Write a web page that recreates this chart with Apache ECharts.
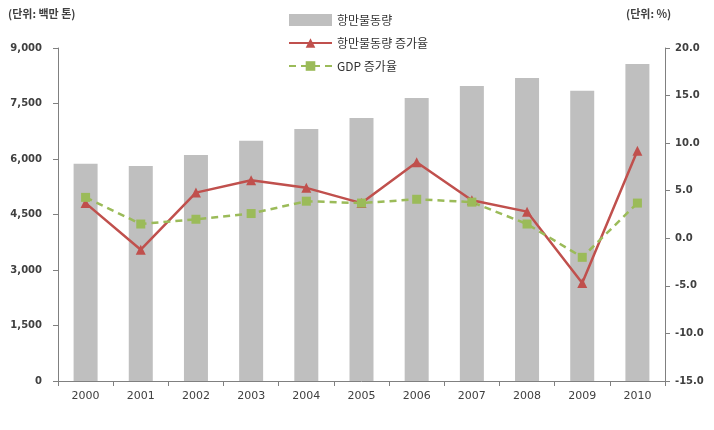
<!DOCTYPE html>
<html>
<head>
<meta charset="utf-8">
<script src="https://cdn.jsdelivr.net/npm/echarts@6/dist/echarts.min.js"></script>
<style>html,body{margin:0;padding:0;background:#fff;}#c{width:714px;height:430px;}</style>
</head>
<body>
<div id="c"></div>
<script>
var categories = ['2000','2001','2002','2003','2004','2005','2006','2007','2008','2009','2010'];
var volume = [5870, 5810, 6110, 6495, 6810, 7110, 7650, 7970, 8190, 7845, 8570];
var volumeGrowth = [3.7, -1.2, 4.8, 6.1, 5.3, 3.7, 8.0, 4.0, 2.8, -4.7, 9.2];
var gdpGrowth = [4.3, 1.5, 2.0, 2.6, 3.9, 3.7, 4.1, 3.8, 1.5, -2.0, 3.7];
var names = ['항만물동량', '항만물동량 증가율', 'GDP 증가율'];
var leftTitle = '(단위: 백만 톤)';
var rightTitle = '(단위: %)';

var chart = echarts.init(document.getElementById('c'));
var labelFont = {fontFamily: 'DejaVu Sans', fontSize: 10, color: '#404040', fontWeight: 'bold'};
chart.setOption({
  animation: false,
  textStyle: {fontFamily: '"Noto Sans CJK KR", "DejaVu Sans", sans-serif'},
  grid: {left: 58, right: 49, top: 48, bottom: 49},
  legend: {
    orient: 'vertical', left: 283, top: 9, itemGap: 11, itemWidth: 43, itemHeight: 12,
    textStyle: {fontSize: 12, color: '#333', fontFamily: '"Noto Sans CJK KR", sans-serif'},
    data: [{name: names[0], icon: 'rect', itemStyle: {color: '#bfbfbf'}}, {name: names[1]}, {name: names[2]}]
  },
  graphic: [
    {type: 'text', left: 8, top: 8, style: {text: leftTitle, fontSize: 11, fill: '#404040', fontWeight: 'bold', fontFamily: '"Noto Sans CJK KR", sans-serif'}},
    {type: 'text', left: 626, top: 8, style: {text: rightTitle, fontSize: 11, fill: '#404040', fontWeight: 'bold', fontFamily: '"Noto Sans CJK KR", sans-serif'}}
  ],
  xAxis: {
    type: 'category', data: categories, boundaryGap: true,
    axisLine: {lineStyle: {color: '#808080', width: 1}},
    axisTick: {show: true, alignWithLabel: false, lineStyle: {color: '#808080'}, length: 5},
    axisLabel: Object.assign({margin: 10}, labelFont, {fontWeight: 'normal', fontSize: 11})
  },
  yAxis: [
    {type: 'value', min: 0, max: 9000, interval: 1500, splitLine: {show: false},
     axisLine: {show: true, lineStyle: {color: '#808080'}},
     axisTick: {show: true, length: 5, lineStyle: {color: '#808080'}},
     axisLabel: Object.assign({margin: 16, formatter: function(v){return v.toLocaleString('en-US');}}, labelFont)},
    {type: 'value', min: -15, max: 20, interval: 5, splitLine: {show: false},
     axisLine: {show: true, lineStyle: {color: '#808080'}},
     axisTick: {show: true, length: 5, lineStyle: {color: '#808080'}},
     axisLabel: Object.assign({margin: 10, formatter: function(v){return v.toFixed(1);}}, labelFont)}
  ],
  series: [
    {name: names[0], type: 'bar', data: volume, barWidth: 24, itemStyle: {color: '#bfbfbf'}},
    {name: names[1], type: 'line', yAxisIndex: 1, data: volumeGrowth, symbol: 'triangle', symbolSize: 10,
     lineStyle: {color: '#c0504d', width: 2.5}, itemStyle: {color: '#c0504d'}},
    {name: names[2], type: 'line', yAxisIndex: 1, data: gdpGrowth, symbol: 'rect', symbolSize: 9,
     lineStyle: {color: '#9bbb59', width: 2.5, type: [7, 5]}, itemStyle: {color: '#9bbb59'}}
  ]
});
</script>
</body>
</html>
